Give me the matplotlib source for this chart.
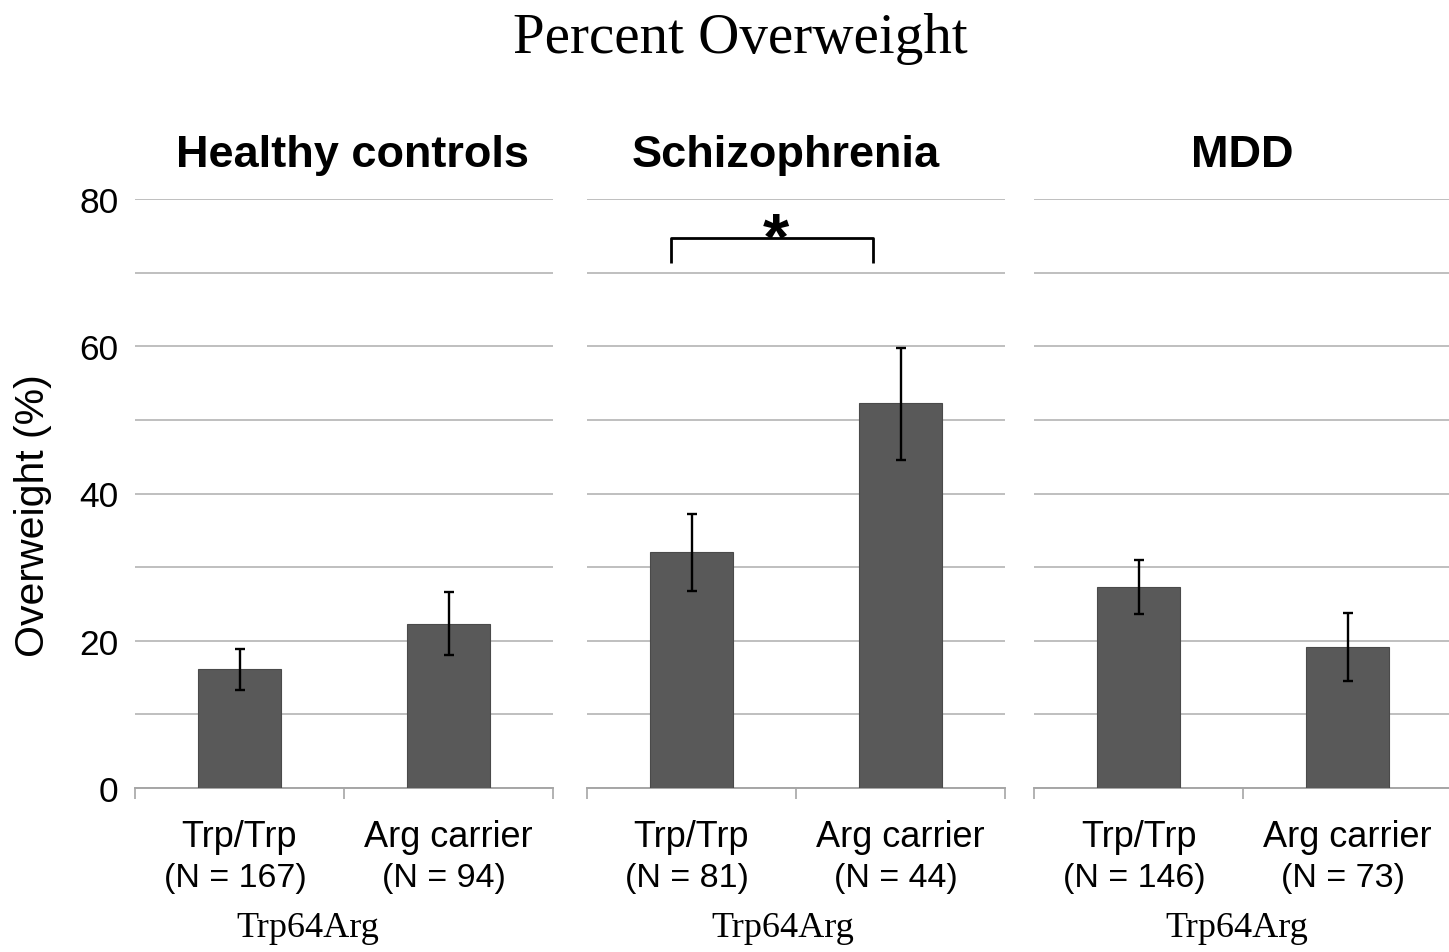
import matplotlib
matplotlib.use("Agg")
import matplotlib.pyplot as plt
from matplotlib.textpath import TextPath
from matplotlib.font_manager import FontProperties
import numpy as np

# ---- data ----
groups = ["Healthy controls", "Schizophrenia", "MDD"]
genotypes = ["Trp/Trp", "Arg carrier"]
n_labels = [["(N = 167)", "(N = 94)"], ["(N = 81)", "(N = 44)"], ["(N = 146)", "(N = 73)"]]
overweight = [[16.1, 22.3], [32.1, 52.3], [27.3, 19.1]]
err_low = [[13.3, 18.0], [26.8, 44.6], [23.6, 14.5]]
err_high = [[18.9, 26.6], [37.2, 59.8], [31.0, 23.8]]
yticks = [0, 20, 40, 60, 80]
xlabel_text = "Trp64Arg"
title = "Percent Overweight"
ylabel = "Overweight (%)"

W, H = 1449, 953
fig = plt.figure(figsize=(W / 100, H / 100), dpi=100)
fig.patch.set_facecolor("white")

bottom = 1 - 789 / H
height = (789 - 200) / H
lefts = [135, 587, 1034]
width = 418 / W
xlab_pos = [0.328, 0.438, 0.471]
title_pos = [0.5215, 0.476, 0.4976]

sans = ["Liberation Sans", "DejaVu Sans"]
serif = ["Liberation Serif", "DejaVu Serif"]
grid_c = "#bfbfbf"
bar_c = "#595959"

# asterisk glyph sizing: about 25 px tall, bottom resting on the bracket
star_prop = FontProperties(family="Liberation Sans", weight="bold")
ext = TextPath((0, 0), "*", size=1, prop=star_prop).get_extents()
star_px = 25 / (ext.ymax - ext.ymin)
star_pt = star_px * 72 / 100
px_per_unit = (789 - 200) / 80
star_base_px = 238 + ext.ymin * star_px
star_y = (789 - star_base_px) / px_per_unit

for gi, g in enumerate(groups):
    ax = fig.add_axes([lefts[gi] / W, bottom, width, height])
    x = np.arange(len(genotypes))
    vals = np.array(overweight[gi])
    lo = vals - np.array(err_low[gi])
    hi = np.array(err_high[gi]) - vals
    ax.bar(x, vals, width=0.4, color=bar_c, edgecolor="#4a4a4a", linewidth=0.8, zorder=3)
    ax.errorbar(x, vals, yerr=[lo, hi], fmt="none", ecolor="black", elinewidth=1.7,
                capsize=3.5, capthick=1.7, zorder=4)
    ax.set_xlim(-0.5, 1.5)
    ax.set_ylim(0, 80)
    ax.set_yticks(np.arange(0, 81, 10))
    ax.yaxis.grid(True, color=grid_c, linewidth=1.4, zorder=0)
    ax.set_axisbelow(True)
    for s in ["top", "right", "left"]:
        ax.spines[s].set_visible(False)
    ax.spines["bottom"].set_color("#a6a6a6")
    ax.spines["bottom"].set_linewidth(1.4)
    ax.set_xticks([-0.5, 0.5, 1.5])
    ax.set_xticklabels([])
    ax.tick_params(axis="x", length=8, width=1.2, color="#a6a6a6", direction="out")
    ax.tick_params(axis="y", length=0)
    if gi == 0:
        ax.set_yticklabels([str(v) if v in yticks else "" for v in range(0, 81, 10)],
                           fontsize=25.5, family=sans)
        ax.tick_params(axis="y", pad=12)
    else:
        ax.set_yticklabels([])
    ax.patch.set_alpha(0)

    ax.text(title_pos[gi], 1.056, g, transform=ax.transAxes, ha="center", va="baseline",
            fontsize=32.5, fontweight="bold", family=sans)
    for xi in x:
        ax.text(xi, -0.0985, genotypes[xi], transform=ax.get_xaxis_transform(),
                ha="center", va="baseline", fontsize=26, family=sans)
        ax.text(xi - 0.02, -0.1664, n_labels[gi][xi], transform=ax.get_xaxis_transform(),
                ha="center", va="baseline", fontsize=24.5, family=sans)
    ax.text(xlab_pos[gi], -0.2513, xlabel_text, transform=ax.get_xaxis_transform(),
            ha="center", va="baseline", fontsize=26, family=serif)

    if gi == 1:
        bx0, bx1, by_top, by_bot = -0.098, 0.868, 74.7, 71.3
        ax.plot([bx0, bx0, bx1, bx1], [by_bot, by_top, by_top, by_bot], color="black",
                linewidth=2.0, zorder=5, solid_capstyle="butt", clip_on=False)
        ax.text(0.404, star_y, "*", ha="center", va="baseline", fontsize=star_pt,
                fontproperties=star_prop)

fig.text(740 / W, 1 - 53 / H, title, ha="center", va="baseline", fontsize=41, family=serif)
fig.text(33 / W, 1 - 516 / H, ylabel, ha="center", va="center", rotation=90,
         fontsize=29.5, family=sans)

fig.savefig("out.png", dpi=100, facecolor="white")
